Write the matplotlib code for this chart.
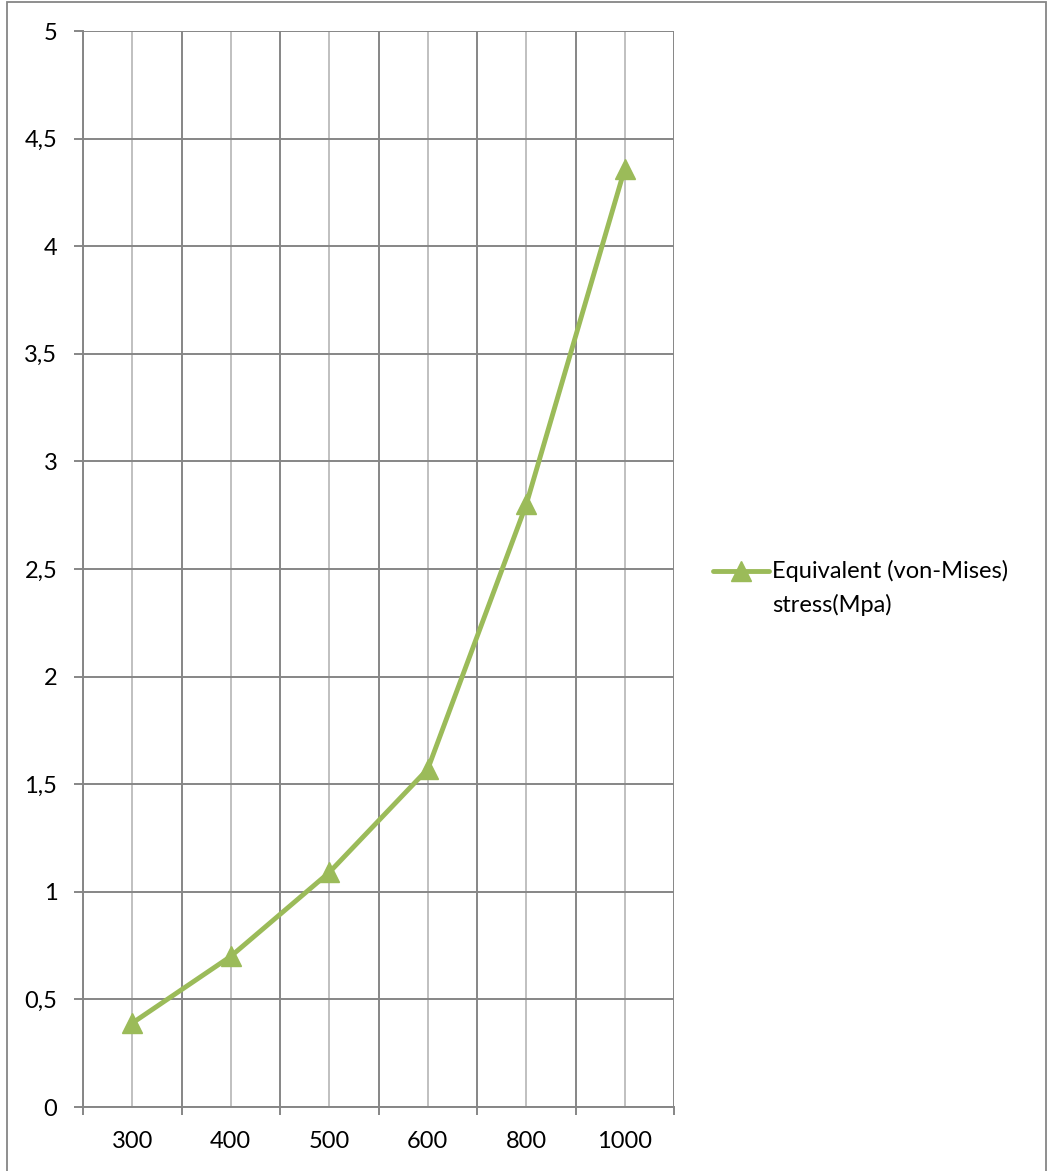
import matplotlib
matplotlib.use("Agg")
import matplotlib.pyplot as plt
from matplotlib.patches import Rectangle
from matplotlib.lines import Line2D
from matplotlib.ticker import FixedLocator, NullFormatter

categories = ["300", "400", "500", "600", "800", "1000"]
stress = [0.39, 0.70, 1.09, 1.57, 2.80, 4.36]
y_ticks = [0, 0.5, 1, 1.5, 2, 2.5, 3, 3.5, 4, 4.5, 5]
y_tick_labels = ["0", "0,5", "1", "1,5", "2", "2,5", "3", "3,5", "4", "4,5", "5"]
series_label = "Equivalent (von-Mises)\nstress(Mpa)"

W, H = 1048, 1171
plt.rcParams["font.family"] = ["Lato", "DejaVu Sans"]

fig = plt.figure(figsize=(W / 100, H / 100), dpi=100)
fig.patch.set_facecolor("white")

dark = "#868686"
light = "#c0c0c0"
green = "#9bbb59"
fs = 17


def fx(px):
    return px / W


def fy(py):
    return 1 - py / H


# outer chart border (bottom edge runs past the image)
fig.add_artist(Rectangle((fx(7), fy(1180)), fx(1046) - fx(7), fy(2) - fy(1180),
                         transform=fig.transFigure, fill=False,
                         edgecolor=dark, linewidth=1.3))

left, right, top, bottom = 83, 674, 31, 1107
ax = fig.add_axes([fx(left), fy(bottom), fx(right) - fx(left), fy(top) - fy(bottom)])

x = list(range(len(categories)))
ax.set_xlim(-0.5, len(categories) - 0.5)
ax.set_ylim(0, 5)

# category boundaries as major ticks/grid, category centres as minor grid with labels
ax.xaxis.set_major_locator(FixedLocator([i - 0.5 for i in range(len(categories) + 1)]))
ax.xaxis.set_major_formatter(NullFormatter())
ax.set_xticks(x, categories, minor=True)
ax.set_yticks(y_ticks, y_tick_labels)

ax.grid(True, which="major", axis="both", color=dark, linewidth=1.4)
ax.grid(True, which="minor", axis="x", color=light, linewidth=1.4)
ax.set_axisbelow(True)

for side in ["top", "right"]:
    ax.spines[side].set_visible(False)
for side in ["left", "bottom"]:
    ax.spines[side].set_color(dark)
    ax.spines[side].set_linewidth(1.4)

ax.tick_params(axis="x", which="major", direction="out", length=6, width=1.4, color=dark)
ax.tick_params(axis="x", which="minor", length=0, pad=17, labelsize=fs)
ax.tick_params(axis="y", which="major", direction="out", length=6.5, width=1.4, color=dark,
               pad=12, labelsize=fs)

ax.plot(x, stress, color=green, linewidth=3.5, marker="^", markersize=15,
        markeredgecolor=green, markerfacecolor=green, clip_on=False, zorder=5,
        label=series_label)

# legend entry: line sample with marker, then the two-line series name
ly = fy(571)
fig.add_artist(Line2D([fx(713), fx(769)], [ly, ly], transform=fig.transFigure,
                      color=green, linewidth=3.5, solid_capstyle="round"))
fig.add_artist(Line2D([fx(741)], [ly], transform=fig.transFigure, marker="^",
                      markersize=14, color=green, linestyle="none"))
fig.text(fx(772), ly, "Equivalent (von-Mises)", fontsize=fs, va="center", ha="left")
fig.text(fx(772), fy(605), "stress(Mpa)", fontsize=fs, va="center", ha="left")

fig.savefig("out.png", dpi=100, facecolor="white")
